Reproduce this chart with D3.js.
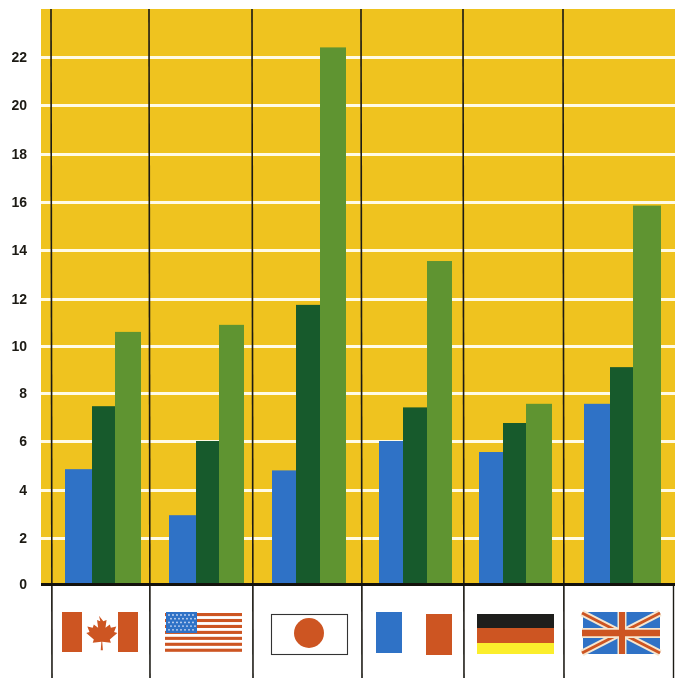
<!DOCTYPE html>
<html><head><meta charset="utf-8">
<script src="https://cdn.jsdelivr.net/npm/d3@7"></script>
<style>html,body{margin:0;padding:0;background:#fff}svg{display:block;filter:blur(.4px)}</style></head>
<body><svg id="c" width="675" height="678"></svg>
<script>
const countries = ["Canada","United States","Japan","France","Germany","United Kingdom"];
const seriesA = [4.85,2.95,4.8,6.0,5.55,7.55];
const seriesB = [7.45,6.0,11.75,7.4,6.75,9.1];
const seriesC = [10.6,10.9,22.4,13.55,7.55,15.85];
const yTicks = [0,2,4,6,8,10,12,14,16,18,20,22];

const YELLOW="#efc31f",BLUE="#2f72c6",DARK="#175a2c",GREEN="#5f9431",ORANGE="#cd5522",INK="#1c1a14";
const svg=d3.select("#c");
const y=d3.scaleLinear().domain(yTicks).range([584,538,490,441,393,346,299,250,202,154,105,57]);
const edges=d3.scaleOrdinal().domain(countries).range([[65,92,115,141],[169,196,219,244],[272,296,320,346],[379,403,427,452],[479,503,526,552],[584,610,633,661]]);
const divider=d3.scaleOrdinal().domain(countries).range([51,149,252,361,463,563]);
const flagX=d3.scaleOrdinal().domain(countries).range([62,165,271,375,477,582]);

svg.append("rect").attr("x",41).attr("y",9).attr("width",634).attr("height",575).attr("fill",YELLOW);

const axis=svg.append("g").attr("transform","translate(41,0)")
  .call(d3.axisLeft(y).tickValues(yTicks).tickSize(-634).tickPadding(14).tickFormat(d3.format("d")));
axis.select(".domain").remove();
axis.selectAll(".tick line").attr("stroke","#fffbe6").attr("stroke-width",3).filter(d=>d===0).remove();
axis.selectAll(".tick text").attr("fill",INK).attr("font-family","'Liberation Sans',Arial,sans-serif")
  .attr("font-size",14).attr("font-weight","bold");

const series=[{v:seriesA,c:BLUE},{v:seriesB,c:DARK},{v:seriesC,c:GREEN}];
countries.forEach((name,i)=>{
  const inner=d3.scaleLinear().domain([0,1,2,3]).range(edges(name));
  svg.append("g").selectAll("rect").data(series).join("rect")
    .attr("x",(d,k)=>inner(k)).attr("width",(d,k)=>inner(k+1)-inner(k))
    .attr("y",d=>y(d.v[i])).attr("height",d=>y(0)-y(d.v[i])).attr("fill",d=>d.c);
});

svg.append("g").selectAll("line").data(countries).join("line")
  .attr("x1",d=>divider(d)).attr("x2",d=>divider(d)+1).attr("y1",9).attr("y2",678)
  .attr("stroke",INK).attr("stroke-width",1.6);
svg.append("line").attr("x1",673.5).attr("x2",673.5).attr("y1",584).attr("y2",678).attr("stroke",INK).attr("stroke-width",1.4);
svg.append("line").attr("x1",41).attr("x2",675).attr("y1",y(0)+.5).attr("y2",y(0)+.5).attr("stroke","#14120c").attr("stroke-width",3);

const g=n=>svg.append("g").attr("transform",`translate(${flagX(n)},612)`);
const R=(p,x,yy,w,h,f)=>p.append("rect").attr("x",x).attr("y",yy).attr("width",w).attr("height",h).attr("fill",f);

let f=g("Canada");
R(f,0,0,20,40,ORANGE);R(f,56,0,20,40,ORANGE);
f.append("path").attr("fill",ORANGE).attr("transform","translate(-1,0) translate(38,20) scale(1.08) translate(-38,-20)")
 .attr("d","M38 5l4 5 3-1-1 7 4-3 1 3 5-1-2 5 3 1-7 6 1 3-8-1 0.6 8h-2l0.6-8-8 1 1-3-7-6 3-1-2-5 5 1 1-3 4 3-1-7 3 1z");

f=g("United States");
d3.range(7).forEach(k=>R(f,0,1+k*5.95,77,3.1,ORANGE));
R(f,1,0,31,21,BLUE);
d3.range(5).forEach(r=>d3.range(7).forEach(c=>f.append("circle").attr("cx",4+c*4+(r%2?2:0)).attr("cy",3+r*3.7).attr("r",.9).attr("fill","#cfdcf5")));

f=g("Japan");
f.append("rect").attr("x",.5).attr("y",2.5).attr("width",76).attr("height",40).attr("fill","#fff").attr("stroke","#333").attr("stroke-width",1.1);
f.append("circle").attr("cx",38).attr("cy",21).attr("r",15).attr("fill",ORANGE);

f=g("France");
R(f,1,0,26,41,BLUE);R(f,51,2,26,41,ORANGE);

f=g("Germany");
R(f,0,2,77,14,"#1e1e1c");R(f,0,16,77,15,ORANGE);R(f,0,31,77,11,"#fbee2c");

f=g("United Kingdom");
R(f,1,0,77,42,BLUE);
[["M0 1L78 41",7,"#f6e6cf"],["M78 1L0 41",7,"#f6e6cf"],["M0 1L78 41",3,ORANGE],["M78 1L0 41",3,ORANGE],
 ["M40 0V42",9,"#f6e6cf"],["M0 21H78",10,"#f6e6cf"],["M40 0V42",6,ORANGE],["M0 21H78",6.5,ORANGE]]
 .forEach(s=>f.append("path").attr("d",s[0]).attr("stroke",s[2]).attr("stroke-width",s[1]).attr("fill","none"));
</script></body></html>
